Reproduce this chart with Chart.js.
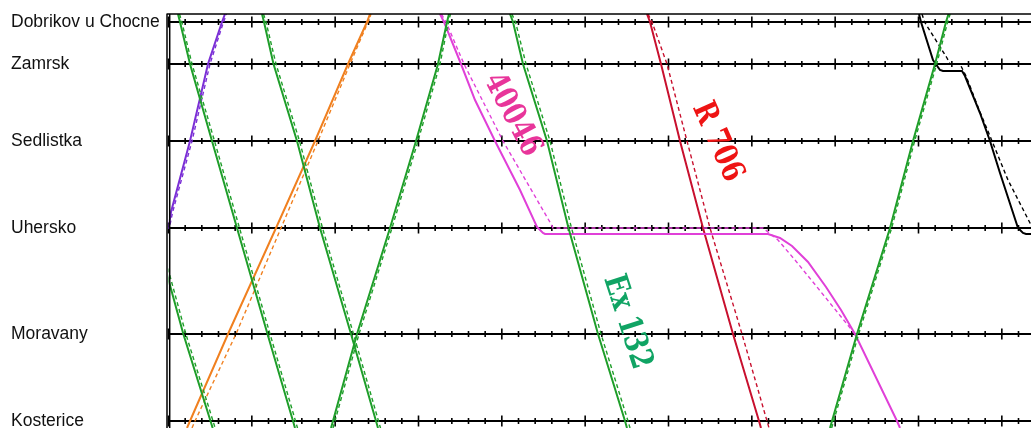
<!DOCTYPE html>
<html>
<head>
<meta charset="utf-8">
<script src="https://cdn.jsdelivr.net/npm/chart.js@4.4.1/dist/chart.umd.min.js"></script>
<style>
    html, body { margin: 0; padding: 0; background: #fff; }
    #wrap { width: 1031px; height: 428px; }
</style>
</head>
<body>
<div id="wrap"><canvas id="graph"></canvas></div>
<script>
// stations (top -> bottom) and their chainage on the graph
const stationNames = ["Dobrikov u Chocne", "Zamrsk", "Sedlistka", "Uhersko", "Moravany", "Kosterice"];
const stationPos = [8, 50, 127, 214, 320, 407];

// minutes shown on the time axis
const minuteTicks = Array.from({ length: 52 }, (_, i) => i);

// running through every station, top edge -> bottom edge
const downPos = [0, 8, 50, 127, 214, 320, 407, 414];
const upPos = [414, 407, 320, 214, 127, 50, 8, 0];

// green trains (actual / planned), times in minutes
const g0Pos = [214, 320, 407, 414];
const g0Time = [-0.85, 0.89, 2.52, 2.65];
const g0Plan = [-0.7, 1.04, 2.67, 2.8];
const g1Time = [0.57, 0.69, 1.29, 2.61, 4.11, 5.94, 7.47, 7.59];
const g1Plan = [0.66, 0.8, 1.41, 2.76, 4.26, 6.09, 7.62, 7.74];
const g2Time = [5.61, 5.73, 6.3, 7.71, 9.09, 10.95, 12.45, 12.57];
const g2Plan = [5.7, 5.85, 6.45, 7.86, 9.24, 11.1, 12.6, 12.72];
const g3Time = [9.75, 9.87, 11.31, 13.29, 14.85, 16.17, 16.71, 16.83];
const g3Plan = [9.87, 9.99, 11.43, 13.41, 14.97, 16.29, 16.8, 16.92];
const ex132Time = [20.49, 20.67, 21.27, 22.71, 24.0, 25.77, 27.39, 27.51];
const ex132Plan = [20.6, 20.82, 21.45, 22.89, 24.18, 25.95, 27.57, 27.69];
const g5Time = [39.69, 39.81, 41.31, 43.29, 44.67, 45.99, 46.65, 46.8];
const g5Plan = [39.79, 39.91, 41.41, 43.39, 44.77, 46.09, 46.75, 46.9];

// violet train leaving Uhersko
const violetPos = [214, 214, 198, 127, 50, 8, 0];
const violetTime = [-1, 0, 0.15, 1.29, 2.37, 3.21, 3.39];
const violetPlan = [-1, 0.05, 0.25, 1.41, 2.49, 3.3, 3.48];

// orange train
const orangeTime = [1.11, 1.29, 3.57, 6.45, 8.79, 10.77, 11.91, 12.09];
const orangePlan = [1.41, 1.59, 4.05, 6.75, 8.97, 10.89, 11.97, 12.15];

// 40046 with its stop at Uhersko
const t40046Pos = [0, 8, 50, 86, 127, 176, 213, 219, 220, 220, 224, 232, 248, 273, 296, 320, 407, 414];
const t40046Time = [16.29, 16.53, 17.55, 18.39, 19.59, 21.09, 22.11, 22.47, 22.59, 35.97, 36.69, 37.41, 38.37, 39.45, 40.35, 41.19, 43.71, 43.89];
const p40046Pos = [0, 8, 50, 127, 210, 214, 214, 226, 246, 273, 299, 320];
const p40046Time = [16.38, 16.65, 17.73, 20.07, 22.95, 23.07, 35.67, 36.57, 37.59, 38.91, 40.17, 41.19];

// R 706
const r706Time = [28.71, 28.89, 29.55, 30.69, 32.07, 33.87, 35.43, 35.55];
const r706Plan = [28.77, 29.01, 29.91, 31.11, 32.49, 34.41, 35.91, 36.03];

// black train with its stop at Zamrsk
const blackPos = [0, 8, 46, 56, 57, 57, 62, 99, 127, 159, 214, 219, 220, 220];
const blackTime = [45.03, 45.15, 45.87, 46.29, 46.47, 47.61, 47.79, 48.69, 49.29, 49.89, 50.97, 51.27, 51.45, 52.3];
const blackPlanPos = [0, 8, 44, 50, 50, 62, 98, 127, 166, 209, 218];
const blackPlanTime = [45.21, 45.36, 46.71, 46.89, 47.49, 47.85, 48.69, 49.41, 50.37, 51.69, 51.93];

// train number labels: text, time, chainage
const labelText = ["40046", "R 706", "Ex 132"];
const labelTime = [20.61, 32.91, 27.51];
const labelPos = [101, 128, 308];

const GREEN = "#1f9e2a";
const labelStyle = [
    { color: "#e8359a", angle: 62 },
    { color: "#ee1414", angle: 66 },
    { color: "#10a464", angle: 72 }
];

function pts(times, pos) {
    return times.map((t, i) => ({ x: t, y: pos[i] }));
}

function run(times, pos, color, planned) {
    return {
        data: pts(times, pos),
        showLine: true,
        borderColor: color,
        borderWidth: planned ? 1.4 : 2,
        borderDash: planned ? [4, 3] : [],
        pointRadius: 0,
        fill: false
    };
}

const datasets = [
    run(g0Time, g0Pos, GREEN), run(g0Plan, g0Pos, GREEN, true),
    run(g1Time, downPos, GREEN), run(g1Plan, downPos, GREEN, true),
    run(g2Time, downPos, GREEN), run(g2Plan, downPos, GREEN, true),
    run(g3Time, upPos, GREEN), run(g3Plan, upPos, GREEN, true),
    run(ex132Time, downPos, GREEN), run(ex132Plan, downPos, GREEN, true),
    run(g5Time, upPos, GREEN), run(g5Plan, upPos, GREEN, true),
    run(violetTime, violetPos, "#7b2fd6"), run(violetPlan, violetPos, "#7b2fd6", true),
    run(orangeTime, upPos, "#f08020"), run(orangePlan, upPos, "#f08020", true),
    run(t40046Time, t40046Pos, "#e040d8"), run(p40046Time, p40046Pos, "#e040d8", true),
    run(r706Time, downPos, "#c8102e"), run(r706Plan, downPos, "#c8102e", true),
    run(blackTime, blackPos, "#000"), run(blackPlanTime, blackPlanPos, "#000", true)
];

const framePlugin = {
    id: "frame",
    beforeDatasetsDraw(chart) {
        const { ctx, chartArea, scales } = chart;
        ctx.save();
        ctx.strokeStyle = "#000";
        ctx.lineWidth = 1.6;
        stationPos.forEach(p => {
            const y = scales.y.getPixelForValue(p);
            minuteTicks.forEach(m => {
                const x = scales.x.getPixelForValue(m);
                if (x > chartArea.right) return;
                const h = m % 5 === 0 ? 5.5 : 3;
                ctx.beginPath();
                ctx.moveTo(x, y - h);
                ctx.lineTo(x, y + h);
                ctx.stroke();
            });
        });
        ctx.restore();
    },
    afterDatasetsDraw(chart) {
        const { ctx, chartArea, scales } = chart;
        ctx.save();
        ctx.strokeStyle = "#000";
        ctx.lineWidth = 1.5;
        ctx.beginPath();
        ctx.moveTo(chartArea.left - 2, chartArea.top);
        ctx.lineTo(chartArea.right, chartArea.top);
        ctx.moveTo(chartArea.left - 1.5, chartArea.top);
        ctx.lineTo(chartArea.left - 1.5, chartArea.bottom);
        ctx.moveTo(chartArea.left + 1.2, chartArea.top);
        ctx.lineTo(chartArea.left + 1.2, chartArea.bottom);
        ctx.stroke();

        ctx.font = "bold 32px 'DejaVu Serif', 'Liberation Serif', serif";
        ctx.textAlign = "center";
        ctx.textBaseline = "middle";
        labelText.forEach((txt, i) => {
            const x = scales.x.getPixelForValue(labelTime[i]);
            const y = scales.y.getPixelForValue(labelPos[i]);
            ctx.save();
            ctx.translate(x, y);
            ctx.rotate(labelStyle[i].angle * Math.PI / 180);
            ctx.scale(0.8, 1);
            ctx.fillStyle = labelStyle[i].color;
            ctx.fillText(txt, 0, 0);
            ctx.restore();
        });
        ctx.restore();
    }
};

new Chart(document.getElementById("graph"), {
    type: "scatter",
    data: { datasets },
    options: {
        responsive: true,
        maintainAspectRatio: false,
        animation: false,
        layout: { padding: { left: 11, top: 14, right: 0, bottom: 0 } },
        plugins: {
            legend: { display: false },
            tooltip: { enabled: false }
        },
        elements: { line: { tension: 0 }, point: { radius: 0, hoverRadius: 0 } },
        scales: {
            x: { type: "linear", display: false, min: 0, max: 51.75 },
            y: {
                type: "linear",
                reverse: true,
                min: 0,
                max: 414,
                afterBuildTicks: (scale) => {
                    scale.ticks = stationPos.map(v => ({ value: v }));
                },
                afterFit: (scale) => {
                    scale.width = 157.5;
                    scale.paddingTop = 0;
                    scale.paddingBottom = 0;
                },
                grid: { color: "#000", lineWidth: 2, drawTicks: false },
                border: { display: false },
                ticks: {
                    crossAlign: "far",
                    padding: 0,
                    autoSkip: false,
                    color: "#111",
                    font: { family: "'Liberation Sans', Arial, sans-serif", size: 17.5 },
                    callback: (value, index) => stationNames[index]
                }
            }
        }
    },
    plugins: [framePlugin]
});
</script>
</body>
</html>
